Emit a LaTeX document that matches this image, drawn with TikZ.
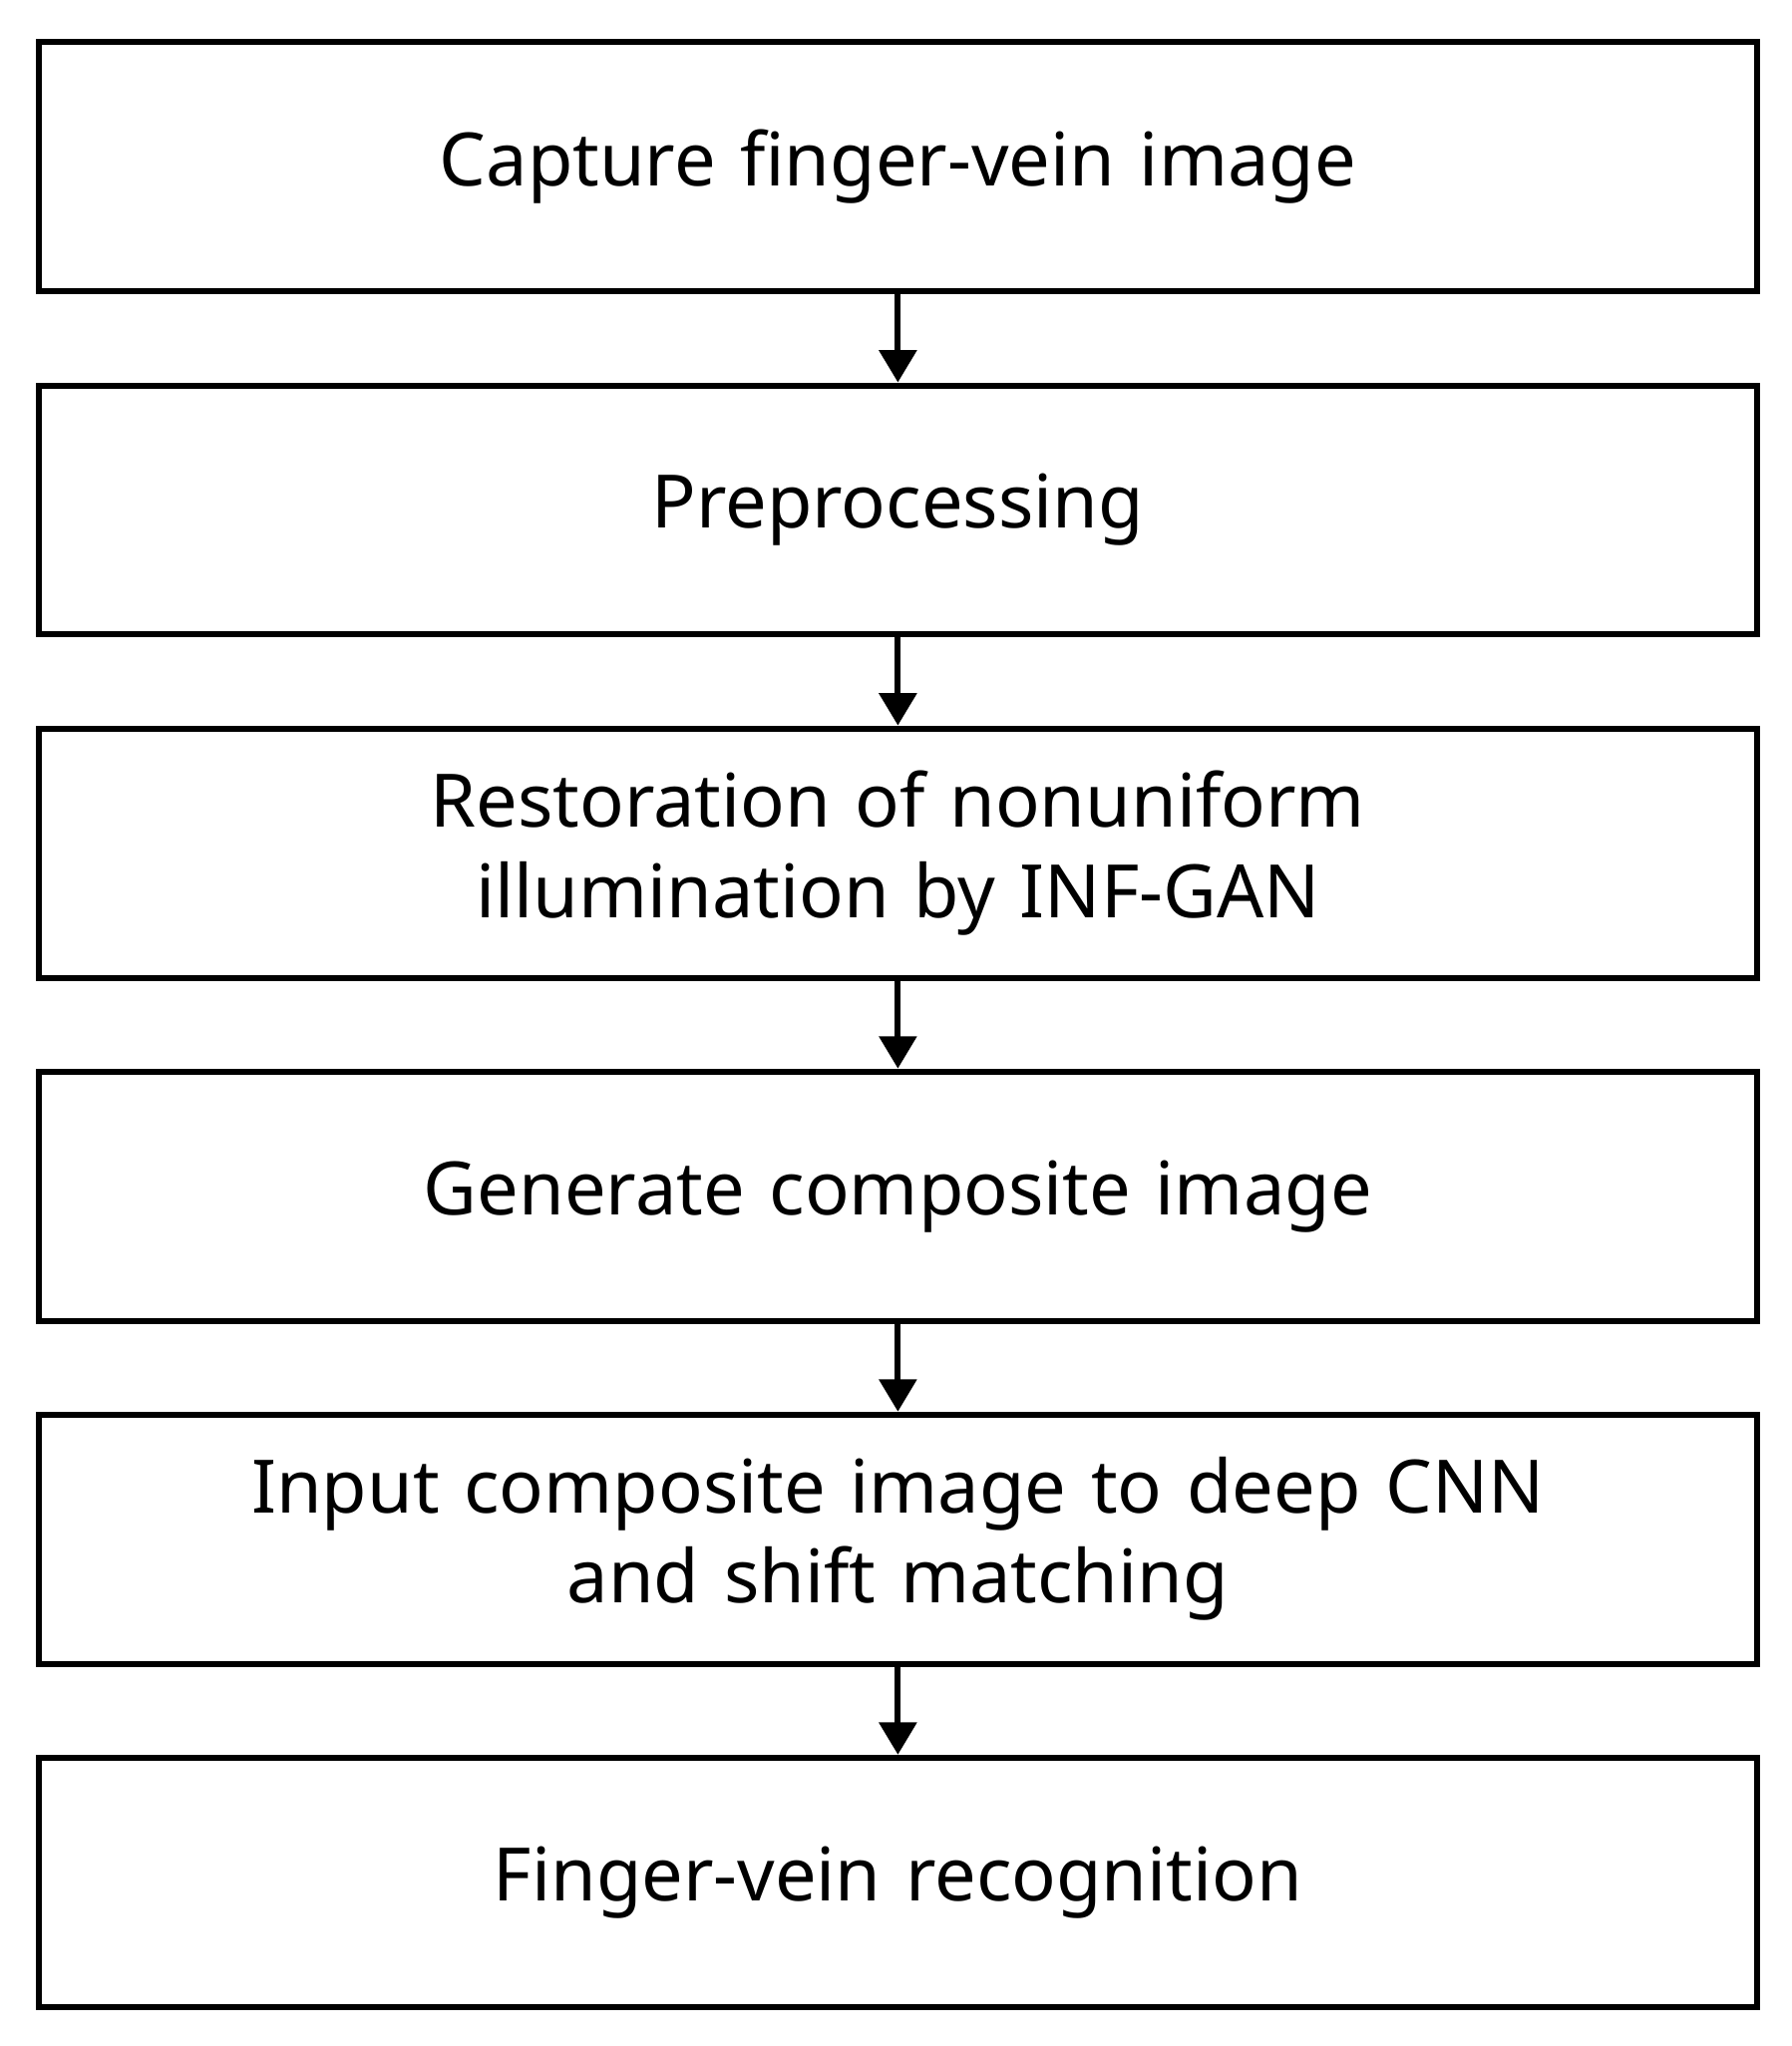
\documentclass[tikz,border=0pt]{standalone}
\usepackage{fontspec}
\setmainfont{Noto Sans}
\usetikzlibrary{positioning,arrows.meta}
\begin{document}
\begin{tikzpicture}[
    stage/.style={draw, line width=1.3pt, minimum width=13.1cm, minimum height=1.9cm,
      text width=12.7cm, align=center, font=\fontsize{16}{19.5}\selectfont, inner sep=0pt},
    flow/.style={-{Triangle[length=7pt,width=8pt]}, line width=1.3pt},
    node distance=0.67cm
  ]
    \useasboundingbox (0,0) rectangle (13.66,-15.6);
    % Ablauf
    \node[stage, below=0.3cm] (capture) at (6.845,0) {Capture finger-vein image};
    \node[stage, below=of capture] (pre) {Preprocessing};
    \node[stage, below=of pre] (restore) {Restoration of nonuniform illumination by INF-GAN};
    \node[stage, below=of restore] (comp) {Generate composite image};
    \node[stage, below=of comp] (cnn) {Input composite image to deep CNN\\and shift matching};
    \node[stage, below=of cnn] (recog) {Finger-vein recognition};
    % Pfeile
    \draw[flow] (capture) -- (pre);
    \draw[flow] (pre) -- (restore);
    \draw[flow] (restore) -- (comp);
    \draw[flow] (comp) -- (cnn);
    \draw[flow] (cnn) -- (recog);
\end{tikzpicture}
\end{document}
